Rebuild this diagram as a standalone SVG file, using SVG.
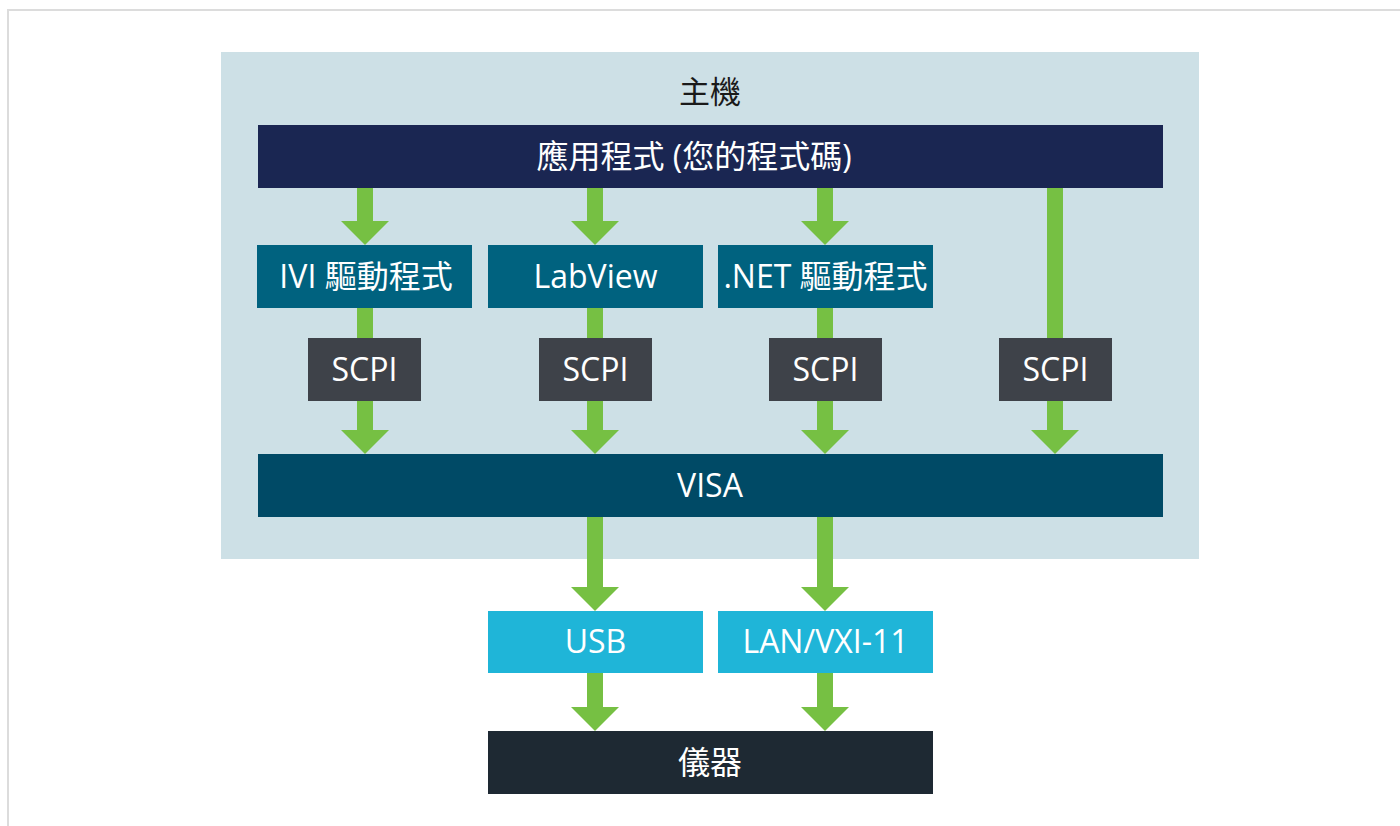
<svg xmlns="http://www.w3.org/2000/svg" width="1400" height="826" viewBox="0 0 1400 826">
<defs>
<style>
.t{font-family:"Open Sans","Noto Sans CJK TC",sans-serif;font-size:32px;fill:#ffffff;text-anchor:middle}
.title{fill:#1a1a1a;font-size:31px}
.arr{fill:#76c043}
.app{fill:#1a2652}
.drv{fill:#00627f}
.scpi{fill:#3e4249}
.visa{fill:#004a66}
.bus{fill:#1fb5d8}
.inst{fill:#1e2933}
</style>
</defs>
<rect x="0" y="0" width="1400" height="826" fill="#ffffff"/>
<rect x="8" y="10" width="1400" height="830" fill="none" stroke="#dcdcdc" stroke-width="2"/>
<g id="host">
<rect x="221" y="52" width="978" height="507" fill="#cde0e6"/>
<text class="t title" x="710" y="103">主機</text>
</g>
<g id="connectors">
<polygon class="arr" points="357,188 373,188 373,221 389,221 365,245 341,221 357,221"/>
<polygon class="arr" points="587,188 603,188 603,221 619,221 595,245 571,221 587,221"/>
<polygon class="arr" points="817,188 833,188 833,221 849,221 825,245 801,221 817,221"/>
<polygon class="arr" points="1047,188 1063,188 1063,430 1079,430 1055,454 1031,430 1047,430"/>
<polygon class="arr" points="357,308 373,308 373,430 389,430 365,454 341,430 357,430"/>
<polygon class="arr" points="587,308 603,308 603,430 619,430 595,454 571,430 587,430"/>
<polygon class="arr" points="817,308 833,308 833,430 849,430 825,454 801,430 817,430"/>
<polygon class="arr" points="587,517 603,517 603,587 619,587 595,611 571,587 587,587"/>
<polygon class="arr" points="817,517 833,517 833,587 849,587 825,611 801,587 817,587"/>
<polygon class="arr" points="587,673 603,673 603,707 619,707 595,731 571,707 587,707"/>
<polygon class="arr" points="817,673 833,673 833,707 849,707 825,731 801,707 817,707"/>
</g>
<g id="app">
<rect class="app" x="258" y="125" width="905" height="63"/>
<text class="t" x="694" y="168">應用程式 (您的程式碼)</text>
</g>
<g id="ivi">
<rect class="drv" x="257" y="245" width="215" height="63"/>
<text class="t" x="366" y="288">IVI 驅動程式</text>
</g>
<g id="labview">
<rect class="drv" x="488" y="245" width="215" height="63"/>
<text class="t" x="595.5" y="288">LabView</text>
</g>
<g id="dotnet">
<rect class="drv" x="718" y="245" width="215" height="63"/>
<text class="t" x="825.5" y="288">.NET 驅動程式</text>
</g>
<g id="scpi1">
<rect class="scpi" x="308" y="338" width="113" height="63"/>
<text class="t" x="364.5" y="381">SCPI</text>
</g>
<g id="scpi2">
<rect class="scpi" x="539" y="338" width="113" height="63"/>
<text class="t" x="595.5" y="381">SCPI</text>
</g>
<g id="scpi3">
<rect class="scpi" x="769" y="338" width="113" height="63"/>
<text class="t" x="825.5" y="381">SCPI</text>
</g>
<g id="scpi4">
<rect class="scpi" x="999" y="338" width="113" height="63"/>
<text class="t" x="1055.5" y="381">SCPI</text>
</g>
<g id="visa">
<rect class="visa" x="258" y="454" width="905" height="63"/>
<text class="t" x="710" y="497">VISA</text>
</g>
<g id="usb">
<rect class="bus" x="488" y="611" width="215" height="62"/>
<text class="t" x="595.5" y="653">USB</text>
</g>
<g id="lan">
<rect class="bus" x="718" y="611" width="215" height="62"/>
<text class="t" x="825.5" y="653">LAN/VXI-11</text>
</g>
<g id="instrument">
<rect class="inst" x="488" y="731" width="445" height="63"/>
<text class="t" x="710" y="774">儀器</text>
</g>
</svg>
